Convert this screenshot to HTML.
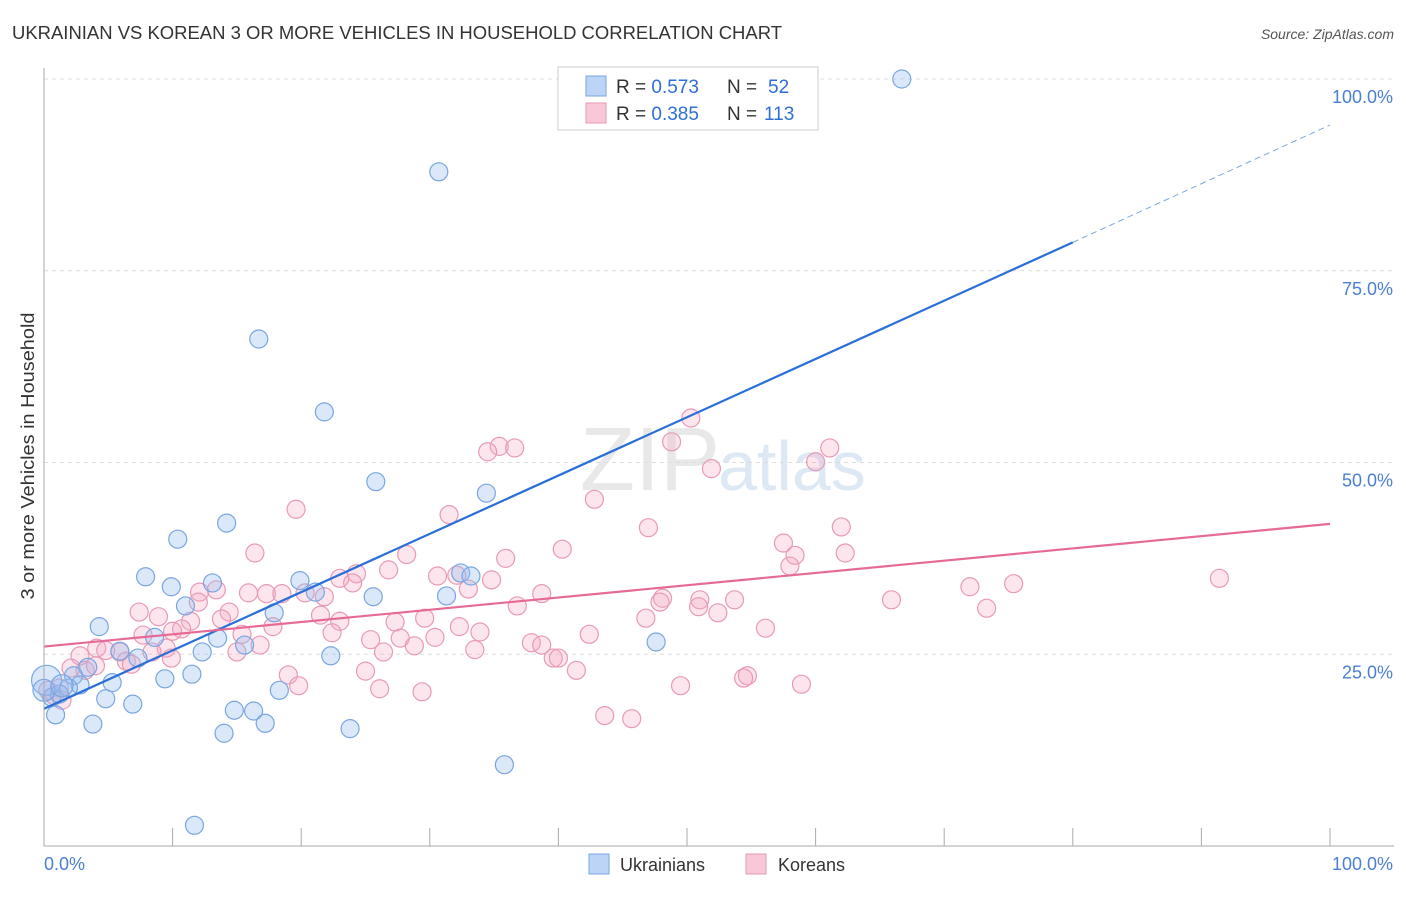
<!DOCTYPE html>
<html><head><meta charset="utf-8"><style>
body{margin:0;background:#fff;font-family:"Liberation Sans",sans-serif}
svg text{font-family:"Liberation Sans",sans-serif}
</style></head><body>
<svg id="chart" width="1406" height="892">
<text x="12" y="39" font-size="18" fill="#333" textLength="770" lengthAdjust="spacingAndGlyphs">UKRAINIAN VS KOREAN 3 OR MORE VEHICLES IN HOUSEHOLD CORRELATION CHART</text>
<text x="1394" y="39" font-size="14" fill="#555" text-anchor="end" font-style="italic">Source: ZipAtlas.com</text>
<text x="720" y="490" font-size="90" fill="#e8e8e8" text-anchor="end" font-family="Liberation Serif">ZIP</text>
<text x="718" y="490" font-size="70" fill="#dde8f5">atlas</text>
<g id="grid"></g><g id="pts"></g><g id="lines"></g>
<line x1="44" y1="68" x2="44" y2="846" stroke="#aaa"/>
<line x1="44" y1="846" x2="1394" y2="846" stroke="#aaa"/>
<text x="34" y="456" font-size="18" fill="#333" text-anchor="middle" textLength="287" lengthAdjust="spacingAndGlyphs" transform="rotate(-90 34 456)">3 or more Vehicles in Household</text>
<text x="44" y="870" font-size="18" fill="#4a7fd4">0.0%</text>
<text x="1393" y="870" font-size="18" fill="#4a7fd4" text-anchor="end">100.0%</text>
<g>
<rect x="558" y="67" width="260" height="63" fill="#fff" stroke="#ccc"/>
<rect x="586" y="76" width="20" height="20" fill="#bcd4f5" stroke="#7aa6e0"/>
<rect x="586" y="103" width="20" height="20" fill="#f8c8d8" stroke="#e89ab5"/>
<text x="616" y="93" font-size="19" fill="#333">R = <tspan fill="#2f6fd6">0.573</tspan></text>
<text x="727" y="93" font-size="19" fill="#333">N = <tspan x="768" fill="#2f6fd6">52</tspan></text>
<text x="616" y="120" font-size="19" fill="#333">R = <tspan fill="#2f6fd6">0.385</tspan></text>
<text x="727" y="120" font-size="19" fill="#333">N = <tspan x="764" fill="#2f6fd6">113</tspan></text>
</g>
<g>
<rect x="589" y="854" width="20" height="20" fill="#bcd4f5" stroke="#7aa6e0"/>
<text x="620" y="871" font-size="18" fill="#333">Ukrainians</text>
<rect x="746" y="854" width="20" height="20" fill="#f8c8d8" stroke="#e89ab5"/>
<text x="778" y="871" font-size="18" fill="#333">Koreans</text>
</g>
</svg>
<script>
const yTicks=[25,50,75,100];
const yTickLabels=["25.0%","50.0%","75.0%","100.0%"];
const xTicks=[0,10,20,30,40,50,60,70,80,90,100];
const blueX=[66.7,30.7,16.7,21.8,25.8,34.4,14.2,10.4,7.9,9.9,13.1,19.9,21.1,25.6,31.3,32.4,33.2,11.0,17.9,4.3,8.6,13.5,15.6,5.9,7.3,12.3,22.3,47.6,3.4,2.3,9.4,11.5,5.3,2.8,1.9,0.6,1.2,4.8,6.9,18.3,14.8,16.3,17.2,3.8,0.9,14.0,23.8,35.8,11.7,0.2,0,1.4];
const blueY=[100,87.9,66.1,56.6,47.5,46.0,42.1,40.0,35.1,33.8,34.3,34.6,33.1,32.5,32.6,35.6,35.2,31.3,30.4,28.6,27.2,27.1,26.2,25.4,24.5,25.3,24.8,26.6,23.3,22.2,21.8,22.4,21.3,21.0,20.6,19.4,19.8,19.2,18.5,20.3,17.7,17.6,16.0,15.9,17.1,14.7,15.3,10.6,2.7,21.6,20.3,20.9];
const pinkX=[50.3,48.8,35.4,36.6,34.5,51.9,60.0,61.1,42.8,19.6,31.5,47.0,62.0,57.5,58.4,62.3,40.3,28.2,35.9,16.4,58.0,26.8,24.3,23.0,24.0,30.6,32.1,34.8,91.4,75.4,72.0,38.7,15.9,17.3,18.5,20.3,21.8,13.4,12.1,33.0,48.1,47.9,51.0,53.7,65.9,50.9,52.4,73.3,36.8,46.8,12.0,7.4,8.9,14.4,11.4,13.8,21.5,27.3,29.6,23.0,32.3,33.9,22.4,17.8,10.7,10.0,7.7,15.4,25.4,27.7,30.4,42.4,56.1,37.9,38.7,28.8,26.4,33.5,16.8,15.0,9.5,8.4,4.1,4.8,5.9,2.8,6.4,9.9,39.6,40.0,6.8,3.2,2.1,4.0,41.4,25.0,19.0,54.7,54.4,19.8,26.1,29.4,49.5,58.9,1.2,0.3,0.8,1.4,43.6,45.7];
const pinkY=[55.8,52.7,52.1,51.9,51.4,49.2,50.1,51.9,45.2,43.9,43.2,41.5,41.6,39.5,37.9,38.2,38.7,38.0,37.5,38.2,36.5,36.0,35.5,34.9,34.3,35.2,35.3,34.7,34.9,34.2,33.8,32.9,33.0,32.9,32.9,33.0,32.5,33.4,33.1,33.5,32.3,31.8,32.1,32.1,32.1,31.2,30.4,31.0,31.3,29.7,31.8,30.5,29.9,30.5,29.3,29.6,30.1,29.2,29.7,29.3,28.6,27.9,27.8,28.6,28.3,28.0,27.5,27.6,26.9,27.1,27.2,27.6,28.4,26.5,26.2,26.1,25.3,25.6,26.2,25.3,25.8,25.3,25.8,25.5,25.3,24.8,24.1,24.5,24.5,24.5,23.7,22.9,23.2,23.5,22.9,22.8,22.3,22.2,21.9,20.9,20.5,20.1,20.9,21.1,20.6,20.3,19.6,19.0,17.0,16.6];
const blueFit=[17.9,78.7,94.0];
const pinkFit=[26.0,42.0];
const sx=v=>44+v*12.86, sy=v=>846-v*7.67;
const NS="http://www.w3.org/2000/svg";
function mk(t,a,p){const e=document.createElementNS(NS,t);for(const k in a)e.setAttribute(k,a[k]);p.appendChild(e);return e;}
const grid=document.getElementById('grid');
yTicks.forEach((v,i)=>{
 const l=mk('line',{x1:44,x2:1394,y1:sy(v),y2:sy(v),stroke:'#ddd','stroke-dasharray':'4,4'},grid);
 
 
 const t=mk('text',{x:1393,y:sy(v)+24,'font-size':18,fill:'#4a7fd4','text-anchor':'end'},grid);
 t.textContent=yTickLabels[i];
 
 
});
xTicks.forEach(v=>{
 const l=mk('line',{x1:sx(v),x2:sx(v),y1:828,y2:846,stroke:'#aaa'},grid);
 
 
});
const pts=document.getElementById('pts');
pinkX.forEach((x,i)=>{
 const c=mk('circle',{cx:sx(x),cy:sy(pinkY[i]),r:9,fill:'rgba(245,170,195,0.3)',stroke:'#e89ab5','stroke-width':1.2},pts);
 
 
});
blueX.forEach((x,i)=>{
 const r=(i===49)?15:(i===50||i===51)?11:9;
 const c=mk('circle',{cx:sx(x),cy:sy(blueY[i]),r:r,fill:'rgba(150,190,240,0.35)',stroke:'#7aa6e0','stroke-width':1.2},pts);
 
 
});
const lines=document.getElementById('lines');
let b=mk('line',{x1:sx(0),y1:sy(blueFit[0]),x2:sx(80),y2:sy(blueFit[1]),stroke:'#2a6fd8','stroke-width':2.2},lines);


let bd=mk('line',{x1:sx(80),y1:sy(blueFit[1]),x2:sx(100),y2:sy(blueFit[2]),stroke:'#7aa6e0','stroke-width':1,'stroke-dasharray':'6,4'},lines);


let p=mk('line',{x1:sx(0),y1:sy(pinkFit[0]),x2:sx(100),y2:sy(pinkFit[1]),stroke:'#e66a95','stroke-width':2.2},lines);


</script>
</body></html>
